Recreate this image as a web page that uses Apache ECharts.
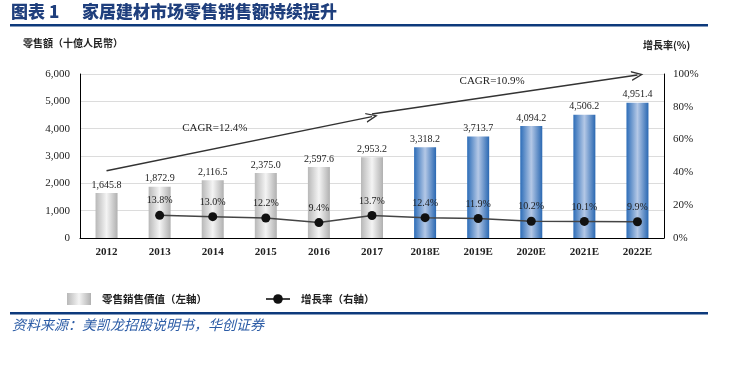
<!DOCTYPE html>
<html>
<head>
<meta charset="utf-8">
<script src="https://cdn.jsdelivr.net/npm/echarts@6/dist/echarts.min.js"></script>
<style>html,body{margin:0;padding:0;background:#fff}#c{width:729px;height:368px}</style>
</head>
<body>
<div id="c"></div>
<script>
var categories = ['2012','2013','2014','2015','2016','2017','2018E','2019E','2020E','2021E','2022E'];
var salesValues = [1645.8, 1872.9, 2116.5, 2375.0, 2597.6, 2953.2, 3318.2, 3713.7, 4094.2, 4506.2, 4951.4];
var growthRates = [null, 13.8, 13.0, 12.2, 9.4, 13.7, 12.4, 11.9, 10.2, 10.1, 9.9];
var leftTicks = [0, 1000, 2000, 3000, 4000, 5000, 6000];
var rightTicks = [0, 20, 40, 60, 80, 100];
var cagrTexts = ['CAGR=12.4%', 'CAGR=10.9%'];
var cagrArrows = [
  [['2012', 2460], ['2017', 4440]],
  [['2017', 4540], ['2022E', 5960]]
];
var cagrLabelPos = [['2014', 4020], ['2019E', 5745]];

var serif = '"Liberation Serif", "Times New Roman", serif';
var cjk = '"Noto Sans CJK SC", "Noto Sans CJK TC", sans-serif';

var grayGrad = new echarts.graphic.LinearGradient(0, 0, 1, 0, [
  {offset: 0, color: '#b8b8b8'}, {offset: 0.5, color: '#f4f4f4'}, {offset: 1, color: '#b0b0b0'}
]);
var blueGrad = new echarts.graphic.LinearGradient(0, 0, 1, 0, [
  {offset: 0, color: '#2d6db8'}, {offset: 0.5, color: '#b4c8e6'}, {offset: 1, color: '#2a68b2'}
]);

function fmtThousands(v) {
  var s = v.toFixed(1).split('.');
  return s[0].replace(/\B(?=(\d{3})+(?!\d))/g, ',') + '.' + s[1];
}

var barData = salesValues.map(function (v, i) {
  var forecast = /E$/.test(categories[i]);
  return forecast ? {value: v, itemStyle: {color: blueGrad}} : {value: v};
});
var lineData = growthRates.map(function (v) { return v === null ? '-' : v; });

var arrowPath = 'path://M0,10 L5,0 L10,10 L8.6,10 L5,2.8 L1.4,10 Z';

var chart = echarts.init(document.getElementById('c'), null, {renderer: 'canvas'});
chart.setOption({
  animation: false,
  backgroundColor: '#fff',
  grid: {left: 80, right: 65, top: 74, bottom: 130, containLabel: false},
  graphic: [
    {type: 'text', left: 11, top: 3, style: {text: '图表 1', font: '900 17px ' + cjk, fill: '#1f3f7d'}},
    {type: 'text', left: 82, top: 3, style: {text: '家居建材市场零售销售额持续提升', font: '900 17px ' + cjk, fill: '#1f3f7d'}},
    {type: 'rect', shape: {x: 10, y: 24, width: 698, height: 2.5}, style: {fill: '#0d3a7c'}},
    {type: 'text', left: 23, top: 38, style: {text: '零售額（十億人民幣）', font: 'bold 10px ' + cjk, fill: '#222'}},
    {type: 'text', left: 643, top: 40, style: {text: '增長率(%)', font: 'bold 10px ' + cjk, fill: '#222'}},
    {type: 'rect', shape: {x: 10, y: 312, width: 698, height: 2.5}, style: {fill: '#0d3a7c'}},
    {type: 'text', left: 12, top: 318, style: {text: '资料来源：美凯龙招股说明书，华创证券', font: 'italic 14px ' + cjk, fill: '#2c5ca6'}}
  ],
  legend: {
    left: 62, top: 288,
    itemWidth: 24, itemHeight: 12, itemGap: 58,
    textStyle: {fontFamily: cjk, fontWeight: 'bold', fontSize: 10.5, color: '#222', padding: [0, 0, 0, 6]},
    data: [
      {name: '零售銷售價值（左軸）', icon: 'rect', itemStyle: {color: grayGrad}},
      {name: '增長率（右軸）'}
    ]
  },
  xAxis: {
    type: 'category', data: categories,
    axisLine: {lineStyle: {color: '#000', width: 1}},
    axisTick: {show: false},
    axisLabel: {fontFamily: serif, fontSize: 11, color: '#222', margin: 9, fontWeight: 'bold'}
  },
  yAxis: [
    {
      type: 'value', min: leftTicks[0], max: leftTicks[leftTicks.length - 1], interval: 1000,
      axisLine: {show: true, lineStyle: {color: '#000'}},
      axisTick: {show: false},
      splitLine: {lineStyle: {color: '#dcdcdc'}},
      axisLabel: {fontFamily: serif, fontSize: 11, color: '#222', margin: 10,
        formatter: function (v) { return v.toString().replace(/\B(?=(\d{3})+(?!\d))/g, ','); }}
    },
    {
      type: 'value', min: rightTicks[0], max: rightTicks[rightTicks.length - 1], interval: 20,
      axisLine: {show: true, lineStyle: {color: '#000'}},
      axisTick: {show: false},
      splitLine: {show: false},
      axisLabel: {fontFamily: serif, fontSize: 11, color: '#222', margin: 9, formatter: '{value}%'}
    }
  ],
  series: [
    {
      name: '零售銷售價值（左軸）', type: 'bar', data: barData, barWidth: 22,
      itemStyle: {color: grayGrad},
      label: {show: true, position: 'top', distance: 3, fontFamily: serif, fontSize: 10, color: '#222',
        formatter: function (p) { return fmtThousands(p.value); }},
      markLine: {
        silent: true, symbol: ['none', arrowPath], symbolSize: [10, 12],
        lineStyle: {color: '#333', width: 1.5, type: 'solid'},
        label: {show: false},
        data: cagrArrows.map(function (a) {
          return [{coord: a[0]}, {coord: a[1]}];
        })
      },
      markPoint: {
        silent: true, symbolSize: 0,
        label: {show: true, position: 'inside', fontFamily: serif, fontSize: 11, color: '#222'},
        data: cagrLabelPos.map(function (p, i) {
          return {coord: p, value: cagrTexts[i], label: {formatter: cagrTexts[i], offset: i === 1 ? [14, 0] : [2, 0]}};
        })
      }
    },
    {
      name: '增長率（右軸）', type: 'line', yAxisIndex: 1, data: lineData,
      symbol: 'circle', symbolSize: 9,
      itemStyle: {color: '#111'},
      lineStyle: {color: '#444', width: 1.5},
      label: {show: true, position: 'top', distance: 5, fontFamily: serif, fontSize: 10, color: '#222',
        formatter: function (p) { return p.value.toFixed(1) + '%'; }}
    }
  ]
});
</script>
</body>
</html>
